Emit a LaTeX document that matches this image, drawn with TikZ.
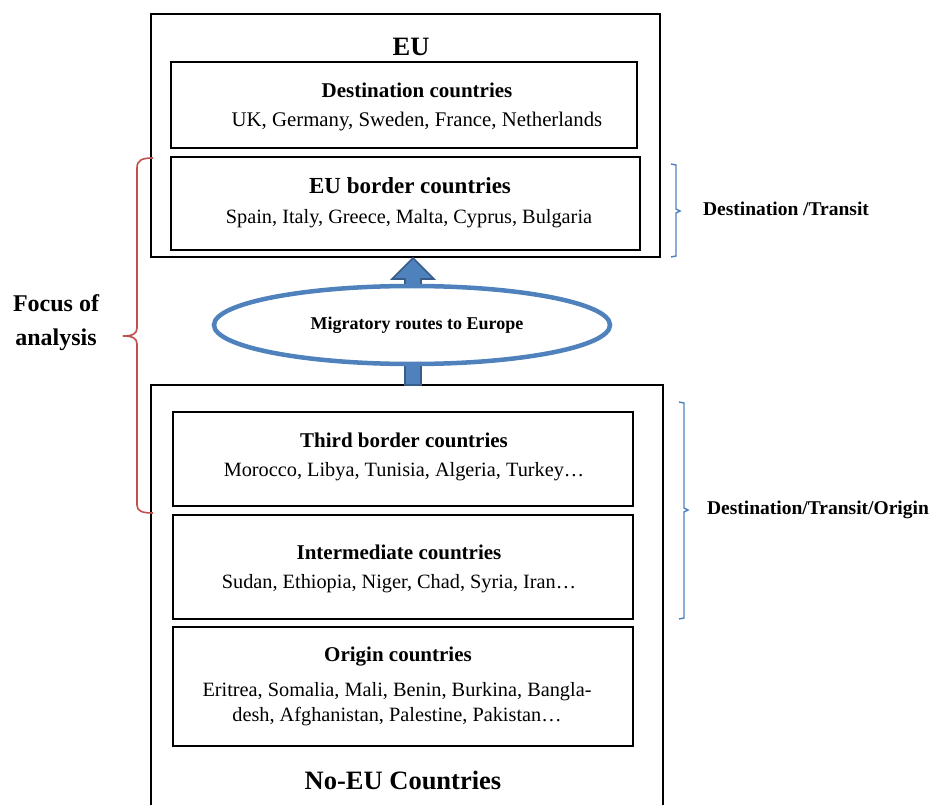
\documentclass[tikz,border=0pt]{standalone}
\usepackage{fontspec}
\setmainfont{Liberation Serif}
\usetikzlibrary{shapes.geometric}
\definecolor{accblue}{HTML}{4F81BD}
\definecolor{darkblue}{HTML}{385D8A}
\definecolor{accred}{HTML}{C0504D}
\begin{document}
\begin{tikzpicture}[x=1pt,y=-1pt,
  outerbox/.style={draw=black, line width=1.8pt, inner sep=0pt},
  innerbox/.style={draw=black, line width=1.4pt, inner sep=0pt},
  ttl/.style={font=\fontsize{21}{25}\selectfont\bfseries, inner sep=0pt},
  bodytxt/.style={font=\fontsize{20.3}{25}\selectfont, align=center, inner sep=0pt},
  bigttl/.style={font=\fontsize{26.5}{30}\selectfont\bfseries, inner sep=0pt},
  sidetxt/.style={font=\fontsize{19.5}{23}\selectfont\bfseries, inner sep=0pt},
  focustxt/.style={font=\fontsize{24}{34}\selectfont\bfseries, align=center, inner sep=0pt},
  redbrace/.style={draw=accred, line width=1.6pt},
  bluebracket/.style={draw=accblue, line width=1.4pt}
]
\useasboundingbox (0,0) rectangle (930,805);

% EU container
\node[outerbox, minimum width=509pt, minimum height=243pt] (eu) at (405.5,135.5) {};
\node[bigttl] (eutitle) at (411,47) {EU};

\node[innerbox, minimum width=466pt, minimum height=86pt] (dest) at (404,105) {};
\node[ttl] (desttitle) at (417,90) {Destination countries};
\node[bodytxt, font=\fontsize{20.8}{25}\selectfont] (destbody) at (417,121.5) {UK, Germany, Sweden, France, Netherlands};

\node[innerbox, minimum width=469pt, minimum height=93pt] (euborder) at (405.5,203.5) {};
\node[ttl, font=\fontsize{23}{27}\selectfont\bfseries] (eubordertitle) at (410,186) {EU border countries};
\node[bodytxt] (euborderbody) at (409,218.5) {Spain, Italy, Greece, Malta, Cyprus, Bulgaria};

% No-EU container (cut at the bottom)
\coordinate (noeuTL) at (151,385);
\coordinate (noeuTR) at (663,385);
\draw[line width=1.8pt] (noeuTL) ++(0,425) -- (noeuTL) -- (noeuTR) -- ++(0,425);

\node[innerbox, minimum width=460pt, minimum height=94pt] (third) at (403,459) {};
\node[ttl] (thirdtitle) at (404,440) {Third border countries};
\node[bodytxt] (thirdbody) at (404,471.5) {Morocco, Libya, Tunisia, Algeria, Turkey\ldots};

\node[innerbox, minimum width=460pt, minimum height=104pt] (inter) at (403,567) {};
\node[ttl] (intertitle) at (399,552) {Intermediate countries};
\node[bodytxt] (interbody) at (399,583.5) {Sudan, Ethiopia, Niger, Chad, Syria, Iran\ldots};

\node[innerbox, minimum width=460pt, minimum height=119pt] (origin) at (403,686.5) {};
\node[ttl] (origintitle) at (398,657) {Origin countries};
\node[bodytxt] (originbody) at (397,704.5) {Eritrea, Somalia, Mali, Benin, Burkina, Bangla-\\desh, Afghanistan, Palestine, Pakistan\ldots};

\node[bigttl] (noeutitle) at (403,780) {No-EU Countries};

% Arrow from No-EU to EU
\coordinate (arrBase) at (413,385);
\coordinate (arrTip) at (413,258);
\filldraw[fill=accblue, draw=darkblue, line width=1.6pt, line join=miter]
  (arrBase) ++(-8,0) -- ++(0,-106) -- ++(-13,0) -- (arrTip) -- ++(21,21) -- ++(-13,0) -- ++(0,106) -- cycle;

% Ellipse
\node[ellipse, draw=accblue, fill=white, line width=4.5pt, minimum width=396pt, minimum height=78pt, inner sep=0pt] (routes) at (412,325) {};
\node[font=\fontsize{18}{22}\selectfont\bfseries, inner sep=0pt] (routestxt) at (417,325) {Migratory routes to Europe};

% Red brace: focus of analysis
\draw[redbrace] (153,158) .. controls (142,158) and (137,160) .. (137,168) -- (137,328)
  .. controls (137,334) and (132,336) .. (123,336)
  .. controls (132,336) and (137,338) .. (137,344) -- (137,505)
  .. controls (137,511) and (142,513) .. (153,513);
\node[focustxt] (focus) at (56,323) {Focus of\\analysis};

% Blue brackets
\draw[bluebracket] (671,164) -- (676,165) -- (676,209) -- (680,211) -- (676,213) -- (676,256) -- (671,257);
\node[sidetxt] (dt) at (786,209) {Destination /Transit};

\draw[bluebracket] (679,402) -- (684,403) -- (684,508) -- (688,510) -- (684,512) -- (684,618) -- (679,619);
\node[sidetxt] (dto) at (818,510) {Destination/Transit/Origin};
\end{tikzpicture}
\end{document}
